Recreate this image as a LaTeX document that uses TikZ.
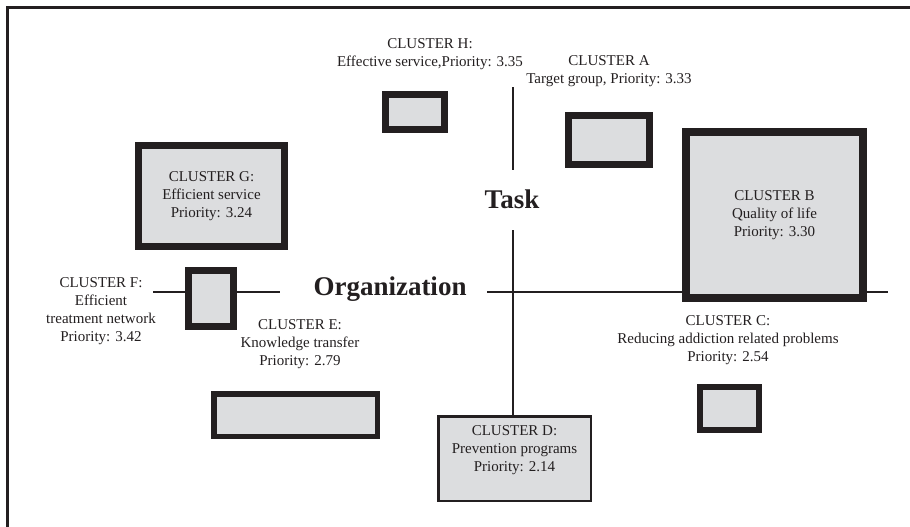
\documentclass[tikz,border=0pt]{standalone}
\usepackage{fontspec}
\setmainfont{Liberation Serif}
\definecolor{inkc}{HTML}{231F20}
\definecolor{boxfill}{HTML}{DCDDDF}
\newcommand{\lblfont}{\fontsize{15}{18}\selectfont}
\newcommand{\bigfont}{\fontsize{27}{32}\selectfont\bfseries}
\begin{document}
\begin{tikzpicture}[x=1pt,y=-1pt,
  cbox/.style={draw=inkc, fill=boxfill, inner sep=0pt, line width=#1, align=center, font=\lblfont, text=inkc},
  cbox/.default=7pt,
  lbl/.style={text=inkc, align=center, font=\lblfont, inner sep=0pt},
  axisline/.style={draw=inkc, line width=2.6pt},
  bigtext/.style={text=inkc, font=\bigfont, inner sep=0pt}]
\useasboundingbox (0,0) rectangle (910,527);
% frame (top and left edges)
\coordinate (fr1) at (7.5,527);
\coordinate (fr2) at (7.5,7.5);
\coordinate (fr3) at (910,7.5);
\draw[inkc, line width=2.6pt] (fr1) -- (fr2) -- (fr3);

% axis coordinates
\coordinate (hl1) at (153,292);
\coordinate (hl2) at (280,292);
\coordinate (hl3) at (487,292);
\coordinate (hl4) at (888,292);
\coordinate (vt) at (513,87);
\coordinate (vm) at (513,170);
\coordinate (vb) at (513,230);

% boxes
\node[cbox] (H) at (415,112) [minimum width=59pt, minimum height=35pt] {};
\node[cbox] (A) at (609,140) [minimum width=81pt, minimum height=49pt] {};
\node[cbox] (G) at (211.5,196) [minimum width=146pt, minimum height=101pt] {CLUSTER G:\\Efficient service\\Priority: 3.24};
\node[cbox=8pt] (B) at (774.5,215) [minimum width=177pt, minimum height=166pt] {CLUSTER B\\Quality of life\\Priority: 3.30};
\node[cbox] (F) at (211,298.5) [minimum width=45pt, minimum height=56pt] {};
\node[cbox=5.5pt] (E) at (295.5,415) [minimum width=163.5pt, minimum height=42.5pt] {};
\node[cbox=6pt] (C) at (729.5,408.5) [minimum width=59pt, minimum height=43pt] {};
\node[cbox=2.5pt] (D) at (514.5,458.5) [minimum width=152.5pt, minimum height=84.5pt] {};

% axis labels
\node[bigtext] (task) at (512,199) {Task};
\node[bigtext] (org) at (390,289) {Organization};

% axis lines
\draw[axisline] (hl1) -- (hl1 -| F.west);
\draw[axisline] (F.east |- hl1) -- (hl2);
\draw[axisline] (hl3) -- (hl3 -| B.west);
\draw[axisline] (B.east |- hl3) -- (hl4);
\draw[axisline] (vt) -- (vm);
\draw[axisline] (vb) -- (vb |- D.north);

% labels
\node[lbl] (Hl) at (430,54) {CLUSTER H:\\Effective service,Priority: 3.35};
\node[lbl] (Al) at (609,71) {CLUSTER A\\Target group, Priority: 3.33};
\node[lbl] (Fl) at (101,311) {CLUSTER F:\\Efficient\\treatment network\\Priority: 3.42};
\node[lbl] (El) at (300,344) {CLUSTER E:\\Knowledge transfer\\Priority: 2.79};
\node[lbl] (Cl) at (728,340) {CLUSTER C:\\Reducing addiction related problems\\Priority: 2.54};
\node[lbl] (Dl) at (514.5,450) {CLUSTER D:\\Prevention programs\\Priority: 2.14};
\end{tikzpicture}
\end{document}
